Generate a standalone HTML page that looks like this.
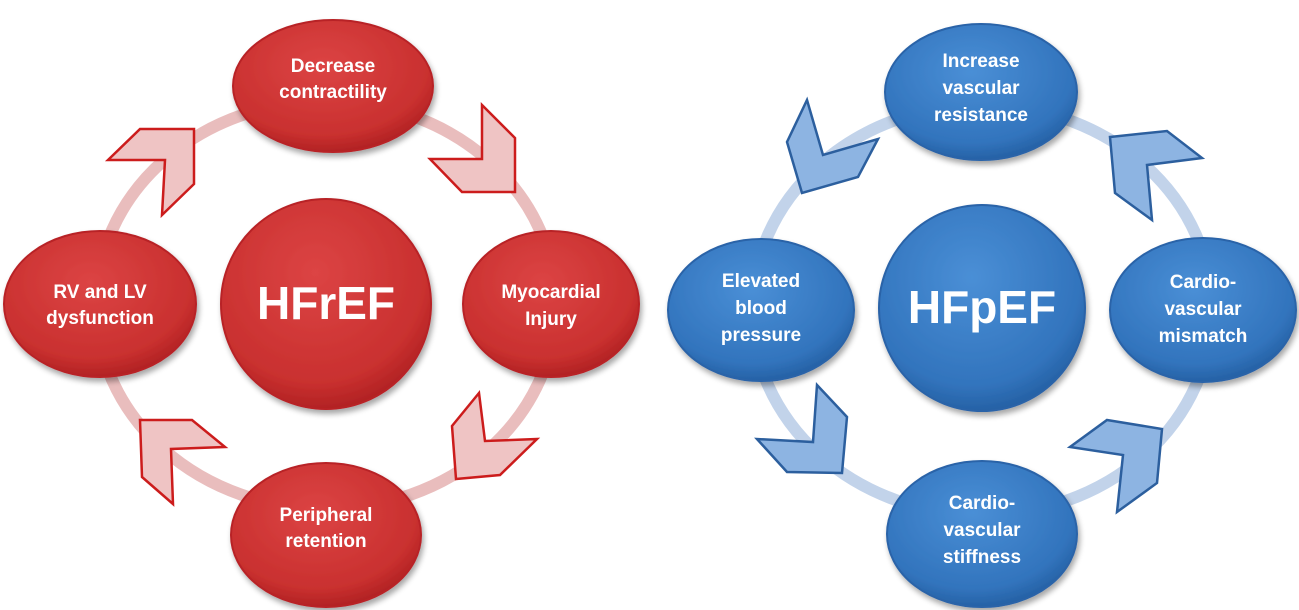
<!DOCTYPE html>
<html><head><meta charset="utf-8"><style>
html,body{margin:0;padding:0;background:#fff;width:1299px;height:610px;overflow:hidden}
svg{display:block}
text{font-family:"Liberation Sans",sans-serif;font-weight:bold;fill:#fff;text-anchor:middle}
.l{font-size:19px}
.c{font-size:46px}
</style></head><body>
<svg width="1299" height="610" viewBox="0 0 1299 610" xmlns="http://www.w3.org/2000/svg">
<defs>
<radialGradient id="rg" cx="0.45" cy="0.35" r="0.7">
<stop offset="0" stop-color="#dc4444"/><stop offset="0.75" stop-color="#c9302f"/><stop offset="1" stop-color="#a81d1f"/>
</radialGradient>
<radialGradient id="bg" cx="0.45" cy="0.35" r="0.7">
<stop offset="0" stop-color="#4a8fd6"/><stop offset="0.75" stop-color="#3274bd"/><stop offset="1" stop-color="#215a9c"/>
</radialGradient>
<filter id="sh" x="-20%" y="-20%" width="140%" height="140%"><feGaussianBlur in="SourceAlpha" stdDeviation="3"/><feOffset dx="2" dy="4"/><feComponentTransfer><feFuncA type="linear" slope="0.35"/></feComponentTransfer><feMerge><feMergeNode/><feMergeNode in="SourceGraphic"/></feMerge></filter>
</defs>

<!-- LEFT -->
<ellipse cx="326" cy="305" rx="230" ry="204" fill="none" stroke="#e9bdbd" stroke-width="12"/>
<g fill="#efc4c4" stroke="#cc1c1c" stroke-width="2.5" stroke-linejoin="miter">
<polygon points="482,105 515,138 515,192 462,192 430,159 482,159"/>
<polygon points="479,393 485,441 537,439 500,475 456,479 452,426"/>
<polygon points="140,420 192,420 225,447 171,449 173,504 142,477"/>
<polygon points="108,160 140,129 194,129 194,184 162,215 165,160"/>
</g>
<g filter="url(#sh)" fill="url(#rg)" stroke="#b82326" stroke-width="2">
<ellipse cx="333" cy="86" rx="100" ry="66"/>
<ellipse cx="551" cy="304" rx="88" ry="73"/>
<ellipse cx="326" cy="535" rx="95" ry="72"/>
<ellipse cx="100" cy="304" rx="96" ry="73"/>
<circle cx="326" cy="304" r="105"/>
</g>
<text class="l" x="333" y="72">Decrease</text>
<text class="l" x="333" y="98">contractility</text>
<text class="l" x="551" y="298">Myocardial</text>
<text class="l" x="551" y="325">Injury</text>
<text class="l" x="326" y="521">Peripheral</text>
<text class="l" x="326" y="547">retention</text>
<text class="l" x="100" y="298">RV and LV</text>
<text class="l" x="100" y="324">dysfunction</text>
<text class="c" x="326" y="319">HFrEF</text>

<!-- RIGHT -->
<ellipse cx="982" cy="310" rx="230" ry="205" fill="none" stroke="#c2d3ea" stroke-width="12"/>
<g fill="#8db4e2" stroke="#2c5f9e" stroke-width="2.5" stroke-linejoin="miter">
<polygon points="1110,137 1167,131 1202,158 1147,165 1152,220 1115,193"/>
<polygon points="807,100 823,155 878,139 858,177 802,193 787,142"/>
<polygon points="817,385 847,417 842,473 787,472 757,439 813,442"/>
<polygon points="1107,420 1162,429 1157,483 1117,512 1123,455 1070,447"/>
</g>
<g filter="url(#sh)" fill="url(#bg)" stroke="#2a63a8" stroke-width="2">
<ellipse cx="981" cy="92" rx="96" ry="68"/>
<ellipse cx="1203" cy="310" rx="93" ry="72"/>
<ellipse cx="982" cy="534" rx="95" ry="73"/>
<ellipse cx="761" cy="310" rx="93" ry="71"/>
<circle cx="982" cy="308" r="103"/>
</g>
<text class="l" x="981" y="67">Increase</text>
<text class="l" x="981" y="94">vascular</text>
<text class="l" x="981" y="121">resistance</text>
<text class="l" x="1203" y="288">Cardio-</text>
<text class="l" x="1203" y="315">vascular</text>
<text class="l" x="1203" y="342">mismatch</text>
<text class="l" x="982" y="509">Cardio-</text>
<text class="l" x="982" y="536">vascular</text>
<text class="l" x="982" y="563">stiffness</text>
<text class="l" x="761" y="287">Elevated</text>
<text class="l" x="761" y="314">blood</text>
<text class="l" x="761" y="341">pressure</text>
<text class="c" x="982" y="323">HFpEF</text>
</svg>
</body></html>
